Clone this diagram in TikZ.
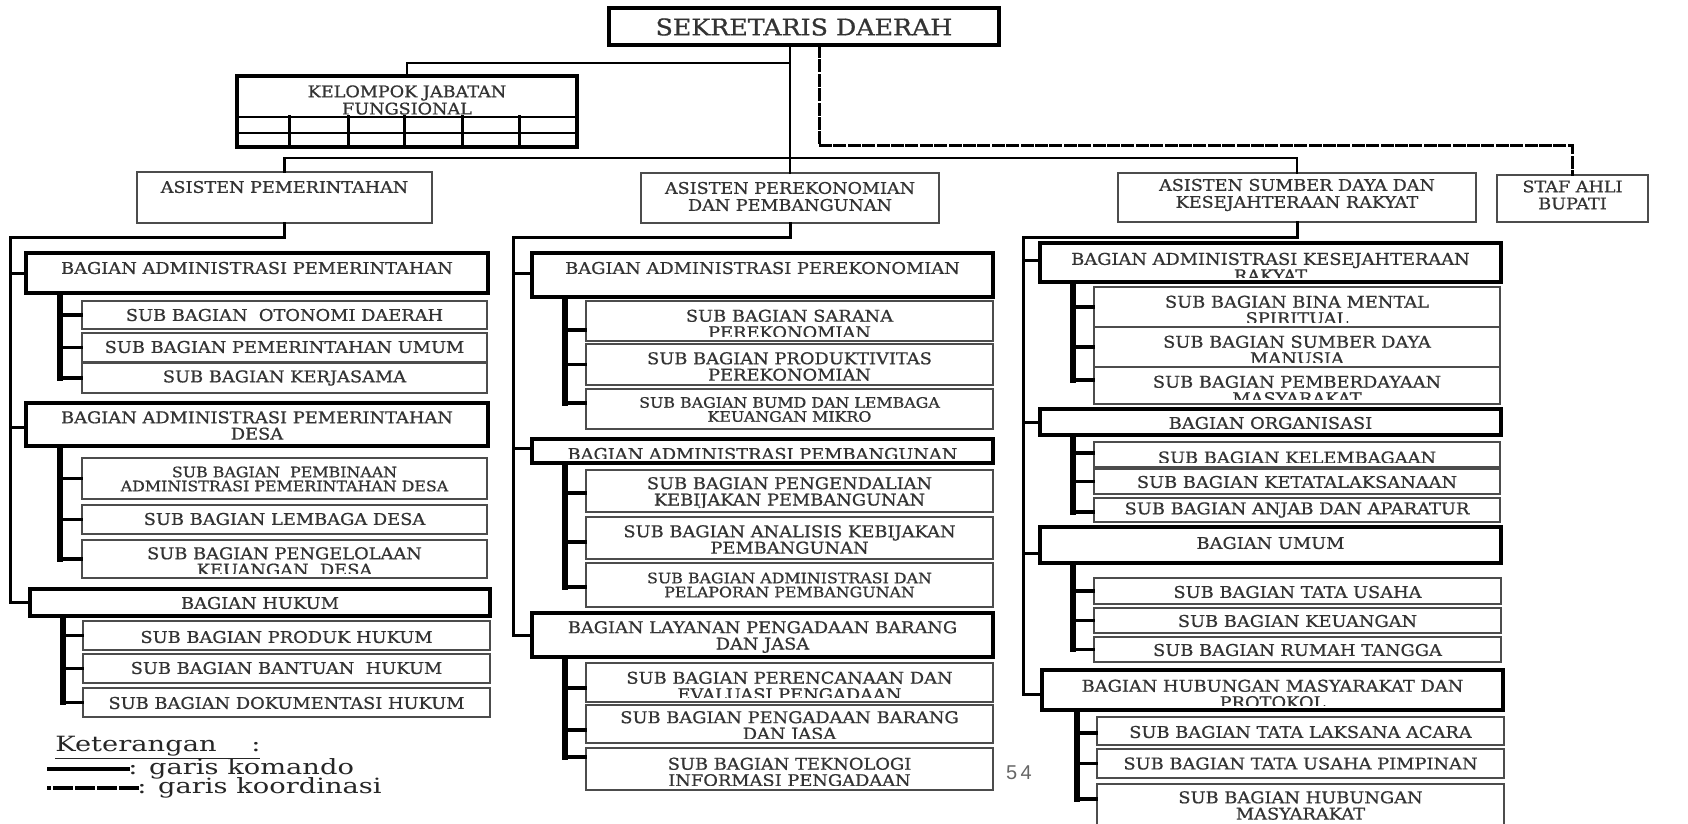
\documentclass[tikz,border=0pt]{standalone}
\usepackage{fontspec}
\newfontfamily\boxfont[FakeStretch=1.1,FakeBold=0.8]{DejaVu Serif}
\newfontfamily\legfont[FakeStretch=1.3]{DejaVu Serif}
\newfontfamily\numfont{Liberation Sans}
\usetikzlibrary{fit}
\tikzset{
  thinbox/.style={draw=black!70, line width=0.7pt, inner sep=0pt},
  thickbox/.style={draw=black, line width=1.8pt, inner sep=0pt},
  txt/.style={inner sep=0pt, align=center, text=black!80, font=\boxfont\fontsize{8.1}{8.2}\selectfont},
  small/.style={font=\boxfont\fontsize{7.2}{7}\selectfont},
  asfont/.style={font=\boxfont\fontsize{8}{8.5}\selectfont},
  topline/.style={line width=1.4pt},
  trunk/.style={line width=1.5pt},
  subtrunk/.style={line width=2.6pt},
  branch/.style={line width=1.7pt},
  coordline/.style={line width=1.5pt, dash pattern=on 5pt off 2.2pt},
  legtxt/.style={anchor=west, inner sep=0pt, text=black!85, font=\legfont\fontsize{10.5}{12}\selectfont},
}
% box: [text opts]{box style}{name}{x1}{y1}{x2}{y2}{text centre y}{text}
\newcommand\obox[9][]{%
  \node[#2, fit={(#4,#5) (#6,#7)}] (#3) {};
  \begin{scope}
    \clip (#4,#5) rectangle (#6,{#7-5});
    \node[txt,#1] (#3-t) at ({(#4+#6)/2},#8) {#9};
  \end{scope}}
% branch: {box}{trunk coordinate}{yshift}
\newcommand\brn[3]{%
  \coordinate (#1-b) at ([yshift=#3]#1.west);
  \draw[branch] (#1-b -| #2) -- (#1-b);}
\begin{document}
\begin{tikzpicture}[x=0.5pt, y=-0.5pt, line cap=rect]
\fill[white] (0,0) rectangle (1688,824);
\clip (0,0) rectangle (1688,824);

% ---------- top ----------
\obox[font=\boxfont\fontsize{11.5}{12}\selectfont]{thickbox, line width=1.6pt}{sek}{609}{8}{999}{45}{27}{SEKRETARIS DAERAH}
\obox[font=\boxfont\fontsize{8}{7.6}\selectfont]{thickbox}{kjf}{237}{76}{577}{147}{100}{KELOMPOK JABATAN\\FUNGSIONAL}
\draw[line width=1.4pt] (237,117) -- (577,117);
\draw[line width=1pt] (237,133) -- (577,133);
\foreach \cx in {289,348,404,462,519} \draw[line width=1.5pt] (\cx,117) -- (\cx,147);

\obox[asfont]{thinbox}{asp}{137}{172}{432}{223}{187}{ASISTEN PEMERINTAHAN}
\obox[asfont]{thinbox}{ape}{641}{173}{939}{223}{196.5}{ASISTEN PEREKONOMIAN\\DAN PEMBANGUNAN}
\obox[asfont]{thinbox}{asd}{1118}{173}{1476}{222}{195}{ASISTEN SUMBER DAYA DAN\\KESEJAHTERAAN RAKYAT}
\obox[asfont]{thinbox}{staf}{1497}{175}{1648}{222}{195}{STAF AHLI\\BUPATI}

\coordinate (jk) at (0,63);
\coordinate (ja) at (0,158);
\coordinate (jd) at (819,146);
\draw[topline] (sek.south -| ape.north) -- (ape.north);
\draw[topline] (ape.north |- jk) -| (kjf.north);
\draw[topline] (asp.north) |- (ja -| asd.north) -- (asd.north);
\draw[coordline] (sek.south -| jd) -- (jd) -| (staf.north);

% ---------- left column ----------
\obox{thickbox}{bap}{26}{253}{488}{293}{268}{BAGIAN ADMINISTRASI PEMERINTAHAN}
\obox{thinbox}{sotn}{82}{301}{487}{329}{315}{SUB BAGIAN\ \ OTONOMI DAERAH}
\obox{thinbox}{spu}{82}{333}{487}{362}{347}{SUB BAGIAN PEMERINTAHAN UMUM}
\obox{thinbox}{sker}{82}{363}{487}{393}{378}{SUB BAGIAN KERJASAMA}
\obox{thickbox}{bapd}{26}{403}{488}{446}{425.5}{BAGIAN ADMINISTRASI PEMERINTAHAN\\DESA}
\obox[small]{thinbox}{spad}{82}{458}{487}{499}{479}{SUB BAGIAN\ \ PEMBINAAN\\ADMINISTRASI PEMERINTAHAN DESA}
\obox{thinbox}{sld}{82}{505}{487}{534}{519}{SUB BAGIAN LEMBAGA DESA}
\obox{thinbox}{skd}{82}{540}{487}{578}{561.5}{SUB BAGIAN PENGELOLAAN\\KEUANGAN\ \ DESA}
\obox{thickbox}{bh}{30}{589}{490}{616}{603}{BAGIAN HUKUM}
\obox{thinbox}{sph}{83}{621}{490}{650}{637}{SUB BAGIAN PRODUK HUKUM}
\obox{thinbox}{sbh}{83}{654}{490}{683}{668}{SUB BAGIAN BANTUAN\ \ HUKUM}
\obox{thinbox}{sdh}{83}{688}{490}{717}{703}{SUB BAGIAN DOKUMENTASI HUKUM}

\coordinate (jl) at (10,237);
\coordinate (bapd-b) at ([yshift=-1.25pt]bapd.west);
\draw[trunk] (asp.south) |- (jl) |- (bh.west);
\draw[trunk] (jl |- bap.west) -- (bap.west);
\draw[trunk] (jl |- bapd-b) -- (bapd-b);

\coordinate (l1) at (60,0);
\coordinate (l2) at (63,0);
\brn{sotn}{l1}{0pt}\brn{spu}{l1}{0pt}\brn{sker}{l1}{0pt}
\draw[subtrunk] (bap.south -| l1) -- (sker-b -| l1);
\brn{spad}{l1}{0pt}\brn{sld}{l1}{0pt}\brn{skd}{l1}{0pt}
\draw[subtrunk] (bapd.south -| l1) -- (skd-b -| l1);
\brn{sph}{l2}{0pt}\brn{sbh}{l2}{0pt}\brn{sdh}{l2}{0pt}
\draw[subtrunk] (bh.south -| l2) -- (sdh-b -| l2);

% legend
\node[legtxt] (ket) at (55,748) {\underline{Keterangan\ \ \ \ :}};
\node[legtxt] (lk) at (128,769) {: garis komando};
\node[legtxt] (lc) at (137,788) {: garis koordinasi};
\draw[line width=2pt] (lk.west) -- ++(-79,0);
\draw[line width=2pt, dash pattern=on 8pt off 3pt] (lc.west) -- ++(-88,0);

% ---------- middle column ----------
\obox{thickbox}{bape}{532}{253}{993}{297}{268}{BAGIAN ADMINISTRASI PEREKONOMIAN}
\obox{thinbox}{ssp}{586}{301}{993}{341}{324}{SUB BAGIAN SARANA\\PEREKONOMIAN}
\obox{thinbox}{spp}{586}{344}{993}{385}{366.5}{SUB BAGIAN PRODUKTIVITAS\\PEREKONOMIAN}
\obox[small]{thinbox}{sbumd}{586}{389}{993}{429}{409.5}{SUB BAGIAN BUMD DAN LEMBAGA\\KEUANGAN MIKRO}
\obox{thickbox}{bapb}{532}{439}{993}{463}{454}{BAGIAN ADMINISTRASI PEMBANGUNAN}
\obox{thinbox}{spkp}{586}{470}{993}{512}{493}{SUB BAGIAN PENGENDALIAN\\KEBIJAKAN PEMBANGUNAN}
\obox{thinbox}{sakp}{586}{517}{993}{559}{539.5}{SUB BAGIAN ANALISIS KEBIJAKAN\\PEMBANGUNAN}
\obox[small]{thinbox}{sapp}{586}{563}{993}{607}{585}{SUB BAGIAN ADMINISTRASI DAN\\PELAPORAN PEMBANGUNAN}
\obox{thickbox}{blp}{532}{613}{993}{657}{637}{BAGIAN LAYANAN PENGADAAN BARANG\\DAN JASA}
\obox{thinbox}{sepe}{586}{663}{993}{702}{686}{SUB BAGIAN PERENCANAAN DAN\\EVALUASI PENGADAAN}
\obox{thinbox}{spbj}{586}{705}{993}{743}{727}{SUB BAGIAN PENGADAAN BARANG\\DAN JASA}
\obox{thinbox}{stek}{586}{748}{993}{790}{772}{SUB BAGIAN TEKNOLOGI\\INFORMASI PENGADAAN}

\coordinate (jm) at (513,237);
\coordinate (bape-b) at ([yshift=1pt]bape.west);
\coordinate (bapb-b) at ([yshift=1.5pt]bapb.west);
\draw[trunk] (ape.south) |- (jm) |- (blp.west);
\draw[trunk] (jm |- bape-b) -- (bape-b);
\draw[trunk] (jm |- bapb-b) -- (bapb-b);

\coordinate (m1) at (565,0);
\brn{ssp}{m1}{-4.5pt}\brn{spp}{m1}{0pt}\brn{sbumd}{m1}{3pt}
\draw[subtrunk] (bape.south -| m1) -- (sbumd-b -| m1);
\brn{spkp}{m1}{-1pt}\brn{sakp}{m1}{-2pt}\brn{sapp}{m1}{-1pt}
\draw[subtrunk] (bapb.south -| m1) -- (sapp-b -| m1);
\brn{sepe}{m1}{-2.75pt}\brn{spbj}{m1}{-3pt}\brn{stek}{m1}{6pt}
\draw[subtrunk] (blp.south -| m1) -- (stek-b -| m1);

\node[inner sep=0pt, text=black!60, font=\numfont\fontsize{10}{12}\selectfont] (pg) at (1019,773) {5\,4};

% ---------- right column ----------
\obox{thickbox}{bakr}{1040}{243}{1501}{282}{267}{BAGIAN ADMINISTRASI KESEJAHTERAAN\\RAKYAT}
\obox{thinbox}{sbms}{1094}{287}{1500}{327}{310}{SUB BAGIAN BINA MENTAL\\SPIRITUAL}
\obox{thinbox}{ssdm}{1094}{327}{1500}{367}{350}{SUB BAGIAN SUMBER DAYA\\MANUSIA}
\obox{thinbox}{spm}{1094}{367}{1500}{404}{390}{SUB BAGIAN PEMBERDAYAAN\\MASYARAKAT}
\obox{thickbox}{bo}{1040}{409}{1501}{435}{423}{BAGIAN ORGANISASI}
\obox{thinbox}{skel}{1094}{442}{1500}{467}{457.5}{SUB BAGIAN KELEMBAGAAN}
\obox{thinbox}{sktl}{1094}{469}{1500}{494}{482}{SUB BAGIAN KETATALAKSANAAN}
\obox{thinbox}{saa}{1094}{498}{1500}{522}{510}{SUB BAGIAN ANJAB DAN APARATUR}
\obox{thickbox}{bu}{1040}{527}{1501}{563}{543}{BAGIAN UMUM}
\obox{thinbox}{stu}{1094}{578}{1501}{604}{592}{SUB BAGIAN TATA USAHA}
\obox{thinbox}{skeu}{1094}{608}{1501}{633}{621}{SUB BAGIAN KEUANGAN}
\obox{thinbox}{srt}{1094}{637}{1501}{662}{650}{SUB BAGIAN RUMAH TANGGA}
\obox{thickbox}{bhm}{1042}{670}{1503}{710}{694}{BAGIAN HUBUNGAN MASYARAKAT DAN\\PROTOKOL}
\obox{thinbox}{stla}{1097}{717}{1504}{745}{732}{SUB BAGIAN TATA LAKSANA ACARA}
\obox{thinbox}{stup}{1097}{749}{1504}{778}{763.5}{SUB BAGIAN TATA USAHA PIMPINAN}
\obox{thinbox}{shm}{1097}{784}{1504}{832}{805.5}{SUB BAGIAN HUBUNGAN\\MASYARAKAT}

\coordinate (jr) at (1023,237);
\coordinate (bakr-b) at ([yshift=1.25pt]bakr.west);
\coordinate (bu-b) at ([yshift=-4pt]bu.west);
\coordinate (bhm-b) at ([yshift=-2pt]bhm.west);
\draw[trunk] (asd.south) |- (jr) |- (bhm-b);
\draw[trunk] (jr |- bakr-b) -- (bakr-b);
\draw[trunk] (jr |- bo.west) -- (bo.west);
\draw[trunk] (jr |- bu-b) -- (bu-b);

\coordinate (r1) at (1073,0);
\coordinate (r2) at (1077,0);
\brn{sbms}{r1}{0pt}\brn{ssdm}{r1}{0pt}\brn{spm}{r1}{2.75pt}
\draw[subtrunk] (bakr.south -| r1) -- (spm-b -| r1);
\brn{skel}{r1}{0.75pt}\brn{sktl}{r1}{0pt}\brn{saa}{r1}{-1pt}
\draw[subtrunk] (bo.south -| r1) -- (saa-b -| r1);
\brn{stu}{r1}{0pt}\brn{skeu}{r1}{0pt}\brn{srt}{r1}{0pt}
\draw[subtrunk] (bu.south -| r1) -- (srt-b -| r1);
\brn{stla}{r2}{-1pt}\brn{stup}{r2}{0pt}\brn{shm}{r2}{4.5pt}
\draw[subtrunk] (bhm.south -| r2) -- (shm-b -| r2);
\end{tikzpicture}
\end{document}
